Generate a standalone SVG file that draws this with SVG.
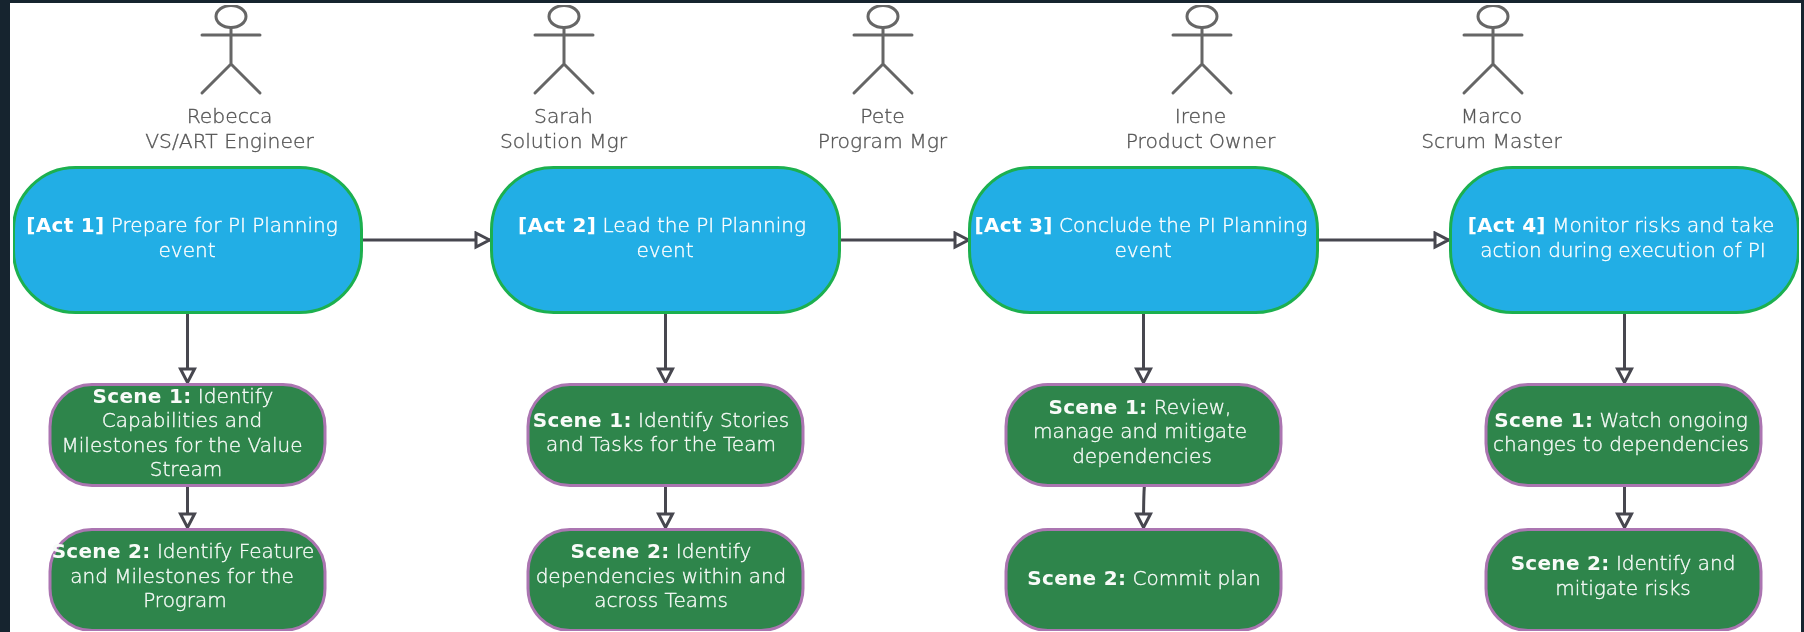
<svg xmlns="http://www.w3.org/2000/svg" width="1804" height="632" viewBox="0 0 1804 632">
<defs>
<style>
text{font-family:"DejaVu Sans",sans-serif;font-size:20px;font-weight:200;text-anchor:middle;stroke-width:0.350px}
.b{font-weight:700;font-size:20px;letter-spacing:0.300px;stroke:none}
.lbl{fill:#555;stroke:#555;font-size:20.300px}
.act{fill:#24aee5;stroke:#1eb04f;stroke-width:3}
.scn{fill:#2e854c;stroke:#ab74b1;stroke-width:3}
.at{fill:#fff;stroke:#fff}
.st{fill:#f8fbf8;stroke:#f8fbf8}
.fig{fill:none;stroke:#666;stroke-width:3;stroke-linecap:round}
.c{fill:none;stroke:#47474f;stroke-width:3}
</style>
<filter id="soft" x="0" y="0" width="100%" height="100%"><feGaussianBlur stdDeviation="0.5"/></filter>
<marker id="ah" markerUnits="userSpaceOnUse" markerWidth="20" markerHeight="20" refX="16" refY="9" orient="auto"><path d="M2 2 L15.500 9 L2 16 Z" fill="#fff" stroke="#47474f" stroke-width="3"/></marker>
<g id="stick"><ellipse cx="0" cy="16.500" rx="15" ry="11"/><path d="M0 28V64M-29 35H29M-29 93L0 64L29 93"/></g>
</defs>
<rect width="1804" height="632" fill="#16242f"/>
<rect x="10" y="3" width="1791" height="629" fill="#fff"/>
<g filter="url(#soft)">
<g id="connectors">
<path class="c" marker-end="url(#ah)" d="M362 240H490"/>
<path class="c" marker-end="url(#ah)" d="M840 240H969"/>
<path class="c" marker-end="url(#ah)" d="M1318 240H1449"/>
<path class="c" marker-end="url(#ah)" d="M187.500 312V383"/>
<path class="c" marker-end="url(#ah)" d="M187.500 485V528"/>
<path class="c" marker-end="url(#ah)" d="M665.500 312V383"/>
<path class="c" marker-end="url(#ah)" d="M665.500 485V528"/>
<path class="c" marker-end="url(#ah)" d="M1143.500 312V383"/>
<path class="c" marker-end="url(#ah)" d="M1144.500 485C1143.500 495 1143.500 505 1143.500 528"/>
<path class="c" marker-end="url(#ah)" d="M1624.500 312V383"/>
<path class="c" marker-end="url(#ah)" d="M1624.500 485V528"/>
</g>
<g id="actor-rebecca"><use href="#stick" class="fig" x="231"/><text class="lbl" x="229.500" y="123">Rebecca</text><text class="lbl" x="229.500" y="148">VS/ART Engineer</text></g>
<g id="actor-sarah"><use href="#stick" class="fig" x="564"/><text class="lbl" x="563.500" y="123">Sarah</text><text class="lbl" x="563.500" y="148">Solution Mgr</text></g>
<g id="actor-pete"><use href="#stick" class="fig" x="883"/><text class="lbl" x="882.500" y="123">Pete</text><text class="lbl" x="882.500" y="148">Program Mgr</text></g>
<g id="actor-irene"><use href="#stick" class="fig" x="1202"/><text class="lbl" x="1200.500" y="123">Irene</text><text class="lbl" x="1200.500" y="148">Product Owner</text></g>
<g id="actor-marco"><use href="#stick" class="fig" x="1493"/><text class="lbl" x="1491.500" y="123">Marco</text><text class="lbl" x="1491.500" y="148">Scrum Master</text></g>
<g id="act1"><rect class="act" x="13.500" y="167.500" width="348" height="145" rx="62"/><text class="at" x="182" y="232"><tspan class="b">[Act 1]</tspan> Prepare for PI Planning</text><text class="at" x="187" y="257">event</text></g>
<g id="act2"><rect class="act" x="491.500" y="167.500" width="348" height="145" rx="62"/><text class="at" x="662" y="232"><tspan class="b">[Act 2]</tspan> Lead the PI Planning</text><text class="at" x="665" y="257">event</text></g>
<g id="act3"><rect class="act" x="969.500" y="167.500" width="348" height="145" rx="62"/><text class="at" x="1141" y="232"><tspan class="b">[Act 3]</tspan> Conclude the PI Planning</text><text class="at" x="1143" y="257">event</text></g>
<g id="act4"><rect class="act" x="1450.500" y="167.500" width="348" height="145" rx="62"/><text class="at" x="1621" y="232"><tspan class="b">[Act 4]</tspan> Monitor risks and take</text><text class="at" x="1623" y="257">action during execution of PI</text></g>
<g id="a1s1"><rect class="scn" x="50" y="384.500" width="275" height="101" rx="42"/><text class="st" x="183" y="403"><tspan class="b">Scene 1:</tspan> Identify</text><text class="st" x="182" y="427">Capabilities and</text><text class="st" x="182" y="452">Milestones for the Value</text><text class="st" x="186" y="476">Stream</text></g>
<g id="a1s2"><rect class="scn" x="50" y="529.500" width="275" height="101" rx="42"/><text class="st" x="183" y="558"><tspan class="b">Scene 2:</tspan> Identify Feature</text><text class="st" x="182" y="583">and Milestones for the</text><text class="st" x="185" y="607">Program</text></g>
<g id="a2s1"><rect class="scn" x="528" y="384.500" width="275" height="101" rx="42"/><text class="st" x="661" y="427"><tspan class="b">Scene 1:</tspan> Identify Stories</text><text class="st" x="661" y="451">and Tasks for the Team</text></g>
<g id="a2s2"><rect class="scn" x="528" y="529.500" width="275" height="101" rx="42"/><text class="st" x="661" y="558"><tspan class="b">Scene 2:</tspan> Identify</text><text class="st" x="661" y="583">dependencies within and</text><text class="st" x="661" y="607">across Teams</text></g>
<g id="a3s1"><rect class="scn" x="1006" y="384.500" width="275" height="101" rx="42"/><text class="st" x="1140" y="414"><tspan class="b">Scene 1:</tspan> Review,</text><text class="st" x="1140" y="438">manage and mitigate</text><text class="st" x="1142" y="463">dependencies</text></g>
<g id="a3s2"><rect class="scn" x="1006" y="529.500" width="275" height="101" rx="42"/><text class="st" x="1144" y="585"><tspan class="b">Scene 2:</tspan> Commit plan</text></g>
<g id="a4s1"><rect class="scn" x="1486" y="384.500" width="275" height="101" rx="42"/><text class="st" x="1621" y="427"><tspan class="b">Scene 1:</tspan> Watch ongoing</text><text class="st" x="1621" y="451">changes to dependencies</text></g>
<g id="a4s2"><rect class="scn" x="1486" y="529.500" width="275" height="101" rx="42"/><text class="st" x="1623" y="570"><tspan class="b">Scene 2:</tspan> Identify and</text><text class="st" x="1623" y="595">mitigate risks</text></g>
</g>
</svg>
